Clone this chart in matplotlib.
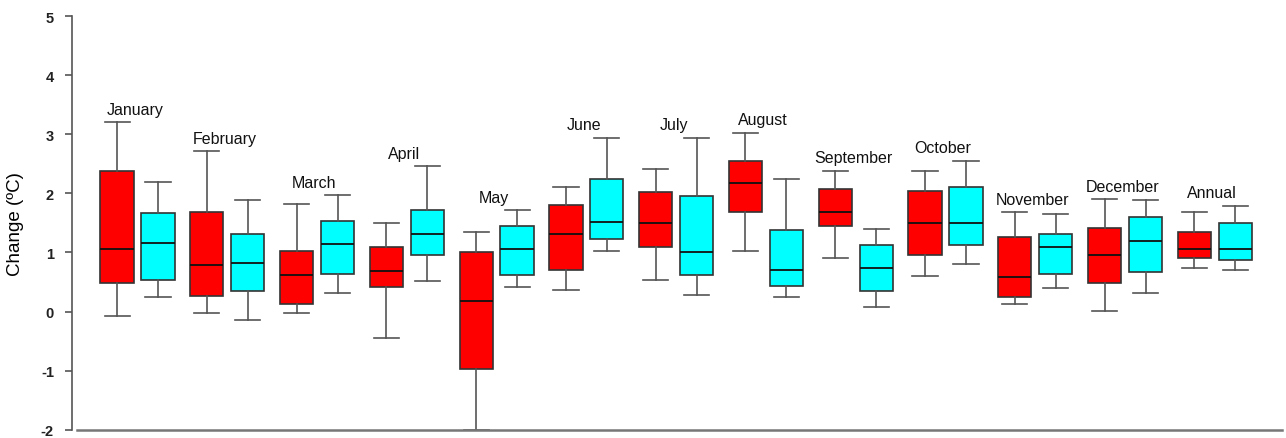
import matplotlib
matplotlib.use("Agg")
import matplotlib.pyplot as plt
import numpy as np

plt.rcParams['font.family'] = ['Liberation Sans', 'DejaVu Sans']
plt.rcParams['axes.unicode_minus'] = False

months = ['January', 'February', 'March', 'April', 'May', 'June', 'July',
          'August', 'September', 'October', 'November', 'December', 'Annual']

# red series: whisker low, Q1, median, Q3, whisker high
red_low = [-0.08, -0.03, -0.03, -0.45, -2.00, 0.36, 0.53, 1.03, 0.90, 0.60, 0.12, 0.01, 0.73]
red_q1 = [0.48, 0.27, 0.12, 0.42, -0.97, 0.70, 1.10, 1.68, 1.44, 0.95, 0.25, 0.48, 0.90]
red_med = [1.06, 0.78, 0.62, 0.68, 0.17, 1.32, 1.49, 2.17, 1.68, 1.49, 0.59, 0.96, 1.06]
red_q3 = [2.38, 1.68, 1.02, 1.09, 1.00, 1.81, 2.02, 2.54, 2.08, 2.04, 1.26, 1.41, 1.34]
red_high = [3.20, 2.71, 1.82, 1.49, 1.34, 2.10, 2.42, 3.03, 2.38, 2.38, 1.68, 1.90, 1.68]

# cyan series
cyan_low = [0.25, -0.14, 0.31, 0.51, 0.42, 1.03, 0.28, 0.25, 0.07, 0.80, 0.40, 0.31, 0.70]
cyan_q1 = [0.53, 0.34, 0.63, 0.95, 0.62, 1.23, 0.61, 0.43, 0.34, 1.12, 0.64, 0.67, 0.88]
cyan_med = [1.16, 0.82, 1.15, 1.32, 1.05, 1.51, 1.01, 0.70, 0.73, 1.49, 1.10, 1.19, 1.06]
cyan_q3 = [1.66, 1.32, 1.53, 1.71, 1.45, 2.24, 1.95, 1.38, 1.12, 2.10, 1.32, 1.60, 1.49]
cyan_high = [2.20, 1.88, 1.97, 2.46, 1.71, 2.94, 2.94, 2.25, 1.39, 2.55, 1.65, 1.88, 1.79]


def make_stats(low, q1, med, q3, high):
    return [dict(whislo=a, q1=b, med=c, q3=d, whishi=e, fliers=[])
            for a, b, c, d, e in zip(low, q1, med, q3, high)]


red_stats = make_stats(red_low, red_q1, red_med, red_q3, red_high)
cyan_stats = make_stats(cyan_low, cyan_q1, cyan_med, cyan_q3, cyan_high)

fig = plt.figure(figsize=(12.86, 4.39), dpi=100)
ax = fig.add_axes([0.056, 0.019, 0.941, 0.942])

groups = np.arange(1, len(months) + 1)
off = 0.228
edge = '#333333'
wcol = '#555555'

for stats, pos, col in [(red_stats, groups - off, '#ff0000'),
                        (cyan_stats, groups + off, '#00ffff')]:
    ax.bxp(stats, positions=pos, widths=0.37, showfliers=False,
           patch_artist=True, manage_ticks=False, capwidths=0.28,
           boxprops=dict(facecolor=col, edgecolor=edge, linewidth=1.2),
           medianprops=dict(color='#111111', linewidth=1.3),
           whiskerprops=dict(color=wcol, linewidth=1.2),
           capprops=dict(color=wcol, linewidth=1.2))

# month labels above the taller whisker of each pair
for g, name, rh, ch in zip(groups, months, red_high, cyan_high):
    ax.text(g - 0.03, max(rh, ch) + 0.22, name, ha='center', va='center',
            fontsize=11.5, color='#111111')

ax.set_xlim(0.27, 13.75)
ax.set_ylim(-2, 5)
ax.set_yticks(range(-2, 6))
ax.set_xticks([])
ax.set_ylabel('Change (ºC)', fontsize=13.5, labelpad=12)

for s in ['top', 'right']:
    ax.spines[s].set_visible(False)
ax.spines['left'].set_color('#555555')
ax.spines['left'].set_linewidth(1.2)
ax.spines['bottom'].set_color('#777777')
ax.spines['bottom'].set_linewidth(1.8)
ax.spines['bottom'].set_bounds(0.33, 13.75)
ax.tick_params(axis='y', direction='out', length=5, width=1.2,
               color='#555555', labelsize=10.5, pad=8)
for lab in ax.get_yticklabels():
    lab.set_fontweight('bold')
    lab.set_color('#222222')

fig.savefig('out.png', dpi=100)
